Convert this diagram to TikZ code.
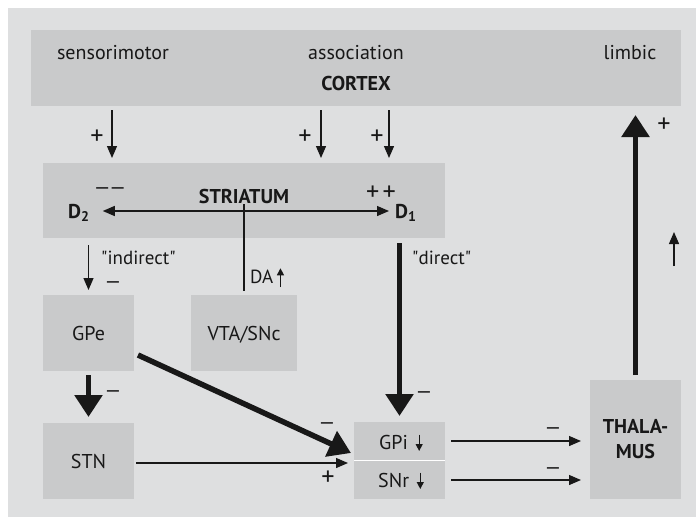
\documentclass[tikz,border=0pt]{standalone}
\usepackage{fontspec}
\setmainfont{PT Sans}[Ligatures=TeXOff]
\usetikzlibrary{arrows.meta}
\definecolor{panel}{RGB}{222,223,224}
\definecolor{region}{RGB}{201,202,203}
\definecolor{ink}{RGB}{24,24,24}
% a wide minus sign as used for inhibitory labels
\newcommand{\inhib}{\scalebox{1.35}[1]{−}}
% an open plus sign for excitatory labels
\newcommand{\excit}{\scalebox{1.25}{+}}
\begin{document}
\begin{tikzpicture}[x=1pt,y=-1pt,
  box/.style={fill=region, inner sep=0pt, outer sep=0pt, text=ink,
    font=\fontsize{20}{25}\selectfont},
  captext/.style={text height=14pt, text depth=0pt},
  lbl/.style={inner sep=0pt, text=ink, font=\fontsize{20}{25}\selectfont},
  sign/.style={inner sep=0pt, text=ink, font=\fontsize{21}{25}\selectfont},
  small/.style={inner sep=0pt, text=ink, font=\fontsize{19}{23}\selectfont},
  fineArrow/.style={line width=1.3pt, draw=ink, -{Triangle[length=12pt,width=10pt]}},
  heavyArrow/.style={line width=5.5pt, draw=ink, -{Triangle[length=22pt,width=27pt]}},
  tinyArrow/.style={line width=1.2pt, draw=ink, -{Triangle[length=7pt,width=7pt]}}]

\useasboundingbox (0,0) rectangle (696,517);
\fill[panel] (8,8) rectangle (696,517);

% regions
\node[box, minimum width=650pt, minimum height=76pt] (cortex) at (356,68) {};
\node[box, minimum width=402pt, minimum height=75pt] (striatum) at (244,200.5) {};
\node[box, captext, minimum width=91pt, minimum height=76pt] (gpe) at (88.5,333) {GPe};
\node[box, captext, minimum width=106pt, minimum height=76pt] (vta) at (244,333) {VTA/SNc};
\node[box, captext, minimum width=91pt, minimum height=76pt] (stn) at (88.5,461) {STN};
\node[box, minimum width=91pt, minimum height=38pt] (gpi) at (399.5,441) {};
\node[box, minimum width=91pt, minimum height=38pt] (snr) at (399.5,480) {};
\draw[white, line width=1pt] (gpi.south west) -- (gpi.south east);
\node[box, minimum width=91pt, minimum height=119pt, align=center,
  font=\fontsize{20}{25}\selectfont\bfseries] (thal) at (635.5,439.5) {THALA-\\MUS};

% cortex labels
\node[lbl, anchor=base] (sm) at (113,59) {sensorimotor};
\node[lbl, anchor=base] (as) at (356,59) {association};
\node[lbl, anchor=base] (lb) at (630,59) {limbic};
\node[lbl, anchor=base, font=\fontsize{20}{25}\selectfont\bfseries] (ctx) at (356,90) {CORTEX};

% striatum labels
\node[lbl, anchor=base, font=\fontsize{20}{25}\selectfont\bfseries] (strtxt) at (244,203) {STRIATUM};
\node[lbl, anchor=base west, font=\fontsize{20}{25}\selectfont\bfseries] (d2) at (68,218) {D\textsubscript{2}};
\node[lbl, anchor=base west, font=\fontsize{20}{25}\selectfont\bfseries] (d1) at (395,218) {D\textsubscript{1}};
\node[sign] (d2sign) at (110,192) {\inhib\hspace{1pt}\inhib};
\node[sign] (d1sign) at (381,193) {\excit\hspace{3pt}\excit};
\coordinate (hy) at (0,211);
\draw[fineArrow, {Triangle[length=12pt,width=10pt]}-{Triangle[length=12pt,width=10pt]},
  shorten <=13pt, shorten >=6pt] (d2.east |- hy) -- (d1.west |- hy);

% output labels of GPi / SNr
\node[lbl, anchor=base west] (gpit) at (379,449) {GPi};
\node[lbl, anchor=base west] (snrt) at (378,487) {SNr};
\draw[tinyArrow] ([xshift=11pt]gpit.north east) -- ([xshift=11pt,yshift=-2pt]gpit.base east);
\draw[tinyArrow] ([xshift=11pt]snrt.north east) -- ([xshift=11pt,yshift=-2pt]snrt.base east);

% cortex -> striatum
\coordinate (c1) at (112,0);
\coordinate (c2) at (321,0);
\coordinate (c3) at (389,0);
\draw[fineArrow, shorten <=4pt, shorten >=5pt] (cortex.south -| c1) -- (striatum.north -| c1);
\draw[fineArrow, shorten <=4pt, shorten >=5pt] (cortex.south -| c2) -- (striatum.north -| c2);
\draw[fineArrow, shorten <=4pt, shorten >=5pt] (cortex.south -| c3) -- (striatum.north -| c3);
\node[sign] (p1) at (97,137) {\excit};
\node[sign] (p2) at (305,137) {\excit};
\node[sign] (p3) at (377,137) {\excit};

% dopamine
\draw[line width=1.3pt, draw=ink, shorten <=1pt, shorten >=4pt] (strtxt.base) -- (vta.north);
\node[small, anchor=base west] (da) at (250,283) {DA};
\draw[tinyArrow] ([xshift=7pt,yshift=-4pt]da.base east) -- ([xshift=7pt,yshift=1pt]da.north east);

% indirect pathway
\draw[fineArrow, shorten <=7pt, shorten >=5pt] (striatum.south -| gpe) -- (gpe.north);
\node[small, anchor=west] (ind) at (101,258) {"indirect"};
\node[sign] (m1) at (113,286) {\inhib};
\draw[heavyArrow, shorten <=4pt, shorten >=6pt] (gpe.south) -- (stn.north);
\node[sign] (m2) at (113,395) {\inhib};
\coordinate (diagS) at (138,355);
\draw[heavyArrow] (diagS) -- ([shift={(-3,12)}]gpi.west);
\node[sign] (m3) at (327,427) {\inhib};
\draw[fineArrow] ([shift={(2,2)}]stn.east) -- ([shift={(-6,2)}]stn.east -| snr.west);
\node[sign] (p4) at (328,478) {\excit};

% direct pathway
\draw[heavyArrow, shorten <=5pt, shorten >=6pt] (striatum.south -| gpi) -- (gpi.north);
\node[small, anchor=west] (dir) at (412,258) {"direct"};
\node[sign] (m4) at (424,396) {\inhib};

% output to thalamus
\draw[fineArrow, shorten <=6pt, shorten >=9pt] (gpi.east) -- (gpi.east -| thal.west);
\draw[fineArrow, shorten <=6pt, shorten >=9pt] (snr.east) -- (snr.east -| thal.west);
\node[sign] (m5) at (553,432) {\inhib};
\node[sign] (m6) at (553,472) {\inhib};

% thalamus -> cortex
\draw[heavyArrow, shorten <=5pt, shorten >=9pt] (thal.north) -- (cortex.south -| thal.north);
\node[sign] (p5) at (664,125) {\excit};
\coordinate (ua1) at (674,266);
\coordinate (ua2) at (674,232);
\draw[fineArrow] (ua1) -- (ua2);
\end{tikzpicture}
\end{document}
